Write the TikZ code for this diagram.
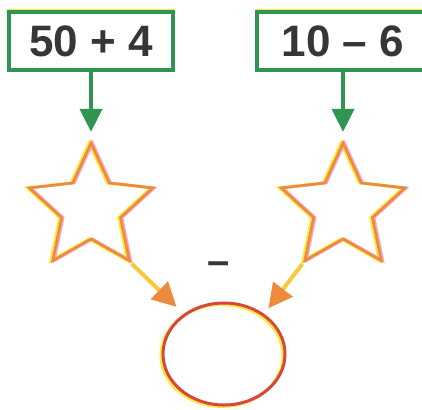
\documentclass[tikz,border=0pt]{standalone}
\usepackage{fontspec}
\setmainfont{Liberation Sans}
\usetikzlibrary{shapes.geometric,arrows.meta}
\definecolor{boxgreen}{HTML}{2F9550}
\definecolor{txtgray}{HTML}{363636}
\definecolor{starorange}{HTML}{EE8A3C}
\definecolor{staryellow}{HTML}{FFE93A}
\definecolor{starpink}{HTML}{F2A6C8}
\definecolor{ringred}{HTML}{D8473E}
\tikzset{
  numbox/.style={draw=boxgreen, line width=3.4pt, fill=white, inner sep=0pt,
    minimum height=58pt, font=\fontsize{44}{44}\bfseries\selectfont, text=txtgray,
    preaction={draw=staryellow, line width=3.4pt, transform canvas={yshift=1.4pt}}},
  starshape/.style={star, star points=5, star point ratio=2.1, minimum size=130pt,
    inner sep=0pt, draw=starorange, line width=2.6pt,
    preaction={draw=staryellow, line width=3pt, transform canvas={xshift=-1.8pt}},
    preaction={draw=starpink, line width=2.6pt, transform canvas={xshift=1.6pt}}},
  ring/.style={ellipse, minimum width=122pt, minimum height=102pt, inner sep=0pt,
    draw=ringred, line width=3pt,
    preaction={draw=staryellow, line width=3pt, transform canvas={xshift=-2pt,yshift=-1.4pt}}},
  greenarrow/.style={draw=boxgreen, line width=4pt,
    -{Triangle[length=23pt,width=22pt]}},
  orangearrow/.style={draw=staryellow!65!starorange, line width=4pt,
    -{Triangle[length=24pt,width=24pt,color=starorange,fill=starorange]}},
}
\begin{document}
\begin{tikzpicture}[x=1pt,y=-1pt]
\useasboundingbox (0,0) rectangle (422,409);
\clip (0,0) rectangle (422,409);
\fill[white] (0,0) rectangle (422,409);
\node[numbox, minimum width=164pt] (b1) at (91,41) {50 + 4};
\node[numbox, minimum width=172pt] (b2) at (343,41) {10 – 6};
\node[starshape] (s1) at (91,208) {};
\node[starshape] (s2) at (343,208) {};
\node[ring] (c) at (224,354) {};
\node[font=\fontsize{40}{40}\bfseries\selectfont, text=txtgray, inner sep=0pt] (m) at (219,268) {–};
\draw[greenarrow, shorten >=8pt] (b1.south) -- (s1.north);
\draw[greenarrow, shorten >=8pt] (b2.south) -- (s2.north);
\draw[orangearrow, shorten <=1pt, shorten >=10pt] (s1.outer point 4) -- (c.135);
\draw[orangearrow, shorten <=1pt, shorten >=7pt] (s2.outer point 3) -- (c.45);
\end{tikzpicture}
\end{document}
